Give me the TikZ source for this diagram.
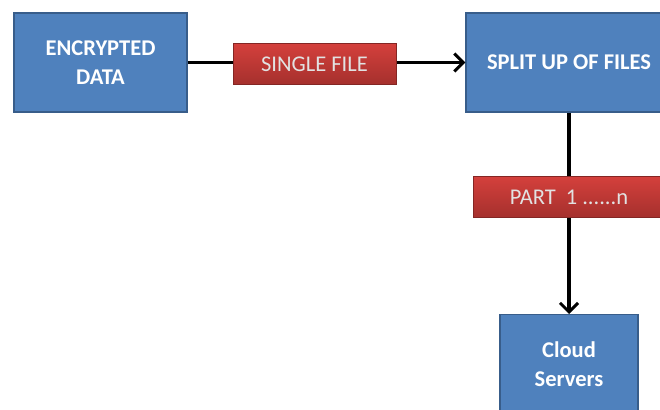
\documentclass[tikz,border=0pt]{standalone}
\usepackage{fontspec}
\setmainfont{Carlito}
\usetikzlibrary{arrows.meta}

\definecolor{boxblue}{HTML}{4F81BD}
\definecolor{boxedge}{HTML}{385D8A}
\definecolor{tagtop}{HTML}{D4403C}
\definecolor{tagbot}{HTML}{A5302D}
\definecolor{tagtext}{HTML}{E2E2E2}

\tikzset{
  bluebox/.style={draw=boxedge, line width=1.2pt, fill=boxblue, text=white,
    font=\bfseries\fontsize{22.5}{29}\selectfont, align=center,
    minimum height=99pt, inner sep=0pt},
  tagbox/.style={draw=tagbot!80!black, line width=0.6pt, top color=tagtop,
    bottom color=tagbot, text=tagtext, font=\fontsize{22.5}{27}\selectfont,
    minimum height=41pt, inner sep=0pt},
  link/.style={line width=3.2pt, -{Straight Barb[length=9pt,width=18pt,line width=3pt]}}
}

\begin{document}
\begin{tikzpicture}[x=1pt,y=-1pt]

  % Frame of the page
  \useasboundingbox (0,0) rectangle (660,409);
  \clip (0,0) rectangle (660,409);

  % Blue boxes
  \node[bluebox, minimum width=173pt] (enc) at (100.5,62.5) {ENCRYPTED\\DATA};
  \node[bluebox, minimum width=206pt] (split) at (569,62.5) {SPLIT UP OF FILES};
  \node[bluebox, minimum width=138pt, anchor=north] (cloud) at (569,314) {Cloud\\Servers};

  % Connectors
  \draw[link] (enc) -- (split);
  \draw[link] (split) -- (cloud);

  % Red labels on the connectors
  \node[tagbox, minimum width=163pt] (single) at (314.5,64) {SINGLE FILE};
  \node[tagbox, minimum width=192pt] (part) at (569,197) {PART\hspace{10pt}1 ......n\hspace{10pt}};

\end{tikzpicture}
\end{document}
